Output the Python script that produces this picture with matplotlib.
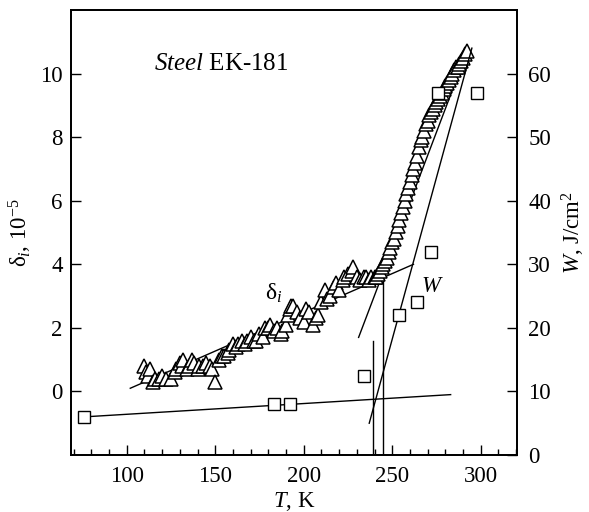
import numpy as np
import matplotlib
matplotlib.use("Agg")
import matplotlib.pyplot as plt
from matplotlib.ticker import MultipleLocator

plt.rcParams['font.family'] = ['Liberation Serif', 'DejaVu Serif']
plt.rcParams['mathtext.fontset'] = 'custom'
plt.rcParams['mathtext.rm'] = 'Liberation Serif'
plt.rcParams['mathtext.it'] = 'Liberation Serif:italic'

# delta_i (10^-5) vs T (K), triangles
t_delta = [110, 111, 112, 113, 115, 116, 118, 120, 122, 125, 127, 128, 130, 131, 132, 134,
           135, 137, 138, 140, 141, 143, 145, 147, 148, 150, 152, 154, 155, 157, 158, 160,
           162, 163, 165, 167, 168, 170, 172, 173, 175, 177, 178, 180, 181, 183, 185, 187,
           188, 190, 191, 192, 193, 194, 196, 198, 200, 201, 203, 205, 207, 208, 210, 212,
           213, 215, 217, 218, 220, 222, 223, 225, 227, 228, 230, 232, 234, 235, 237, 238,
           240, 241, 242, 243, 244, 245, 246, 247, 248, 249, 250, 251, 252, 253, 254, 255,
           256, 257, 258, 259, 260, 261, 262, 263, 264, 265, 266, 267, 268, 269, 270, 271,
           272, 273, 274, 275, 276, 277, 278, 279, 280, 281, 282, 283, 284, 285, 286, 287,
           288, 289, 290, 291, 292]
delta = [0.8, 0.6, 0.5, 0.7, 0.3, 0.4, 0.4, 0.5, 0.4, 0.4, 0.6, 0.7, 0.9, 0.8, 1.0, 0.7,
         0.8, 1.0, 0.9, 0.7, 0.8, 0.8, 0.9, 0.8, 0.7, 0.3, 1.0, 1.1, 1.1, 1.2, 1.3, 1.5,
         1.4, 1.5, 1.6, 1.5, 1.6, 1.7, 1.6, 1.6, 1.8, 1.7, 2.0, 2.0, 2.1, 1.9, 2.0, 1.8,
         1.9, 2.1, 2.4, 2.6, 2.7, 2.7, 2.5, 2.3, 2.2, 2.6, 2.5, 2.1, 2.3, 2.4, 2.8, 3.2,
         2.9, 3.0, 3.3, 3.4, 3.2, 3.5, 3.6, 3.7, 3.8, 3.9, 3.6, 3.5, 3.6, 3.6, 3.5, 3.6,
         3.6, 3.6, 3.7, 3.8, 3.9, 4.0, 4.1, 4.2, 4.4, 4.5, 4.7, 4.8, 5.0, 5.2, 5.4, 5.6,
         5.8, 6.0, 6.2, 6.4, 6.6, 6.8, 7.0, 7.2, 7.4, 7.7, 7.9, 8.0, 8.2, 8.4, 8.5, 8.7,
         8.8, 8.9, 9.0, 9.1, 9.2, 9.3, 9.4, 9.5, 9.6, 9.7, 9.8, 9.9, 10.0, 10.1, 10.2, 10.2,
         10.3, 10.4, 10.5, 10.6, 10.7]

# W (J/cm^2) vs T (K), squares
t_w = [76, 183, 192, 234, 254, 264, 272, 276, 298]
w = [6, 8, 8, 12.5, 22, 24, 32, 57, 57]

# fitted lines (T, delta) / (T, W) endpoints
fit_delta_low = ([102, 262], [0.1, 4.0])
fit_delta_high = ([231, 293], [1.7, 10.8])
fit_w_low = ([76, 283], [6.0, 9.5])
fit_w_high = ([237, 295], [5.0, 64.0])
t_transition = [239, 245]
v_top = [1.6, 3.7]

fig = plt.figure(figsize=(5.89, 5.12), dpi=100)
ax = fig.add_axes([0.1205, 0.1113, 0.7573, 0.8692])
ax2 = ax.twinx()

ax.plot(t_delta, delta, ls='none', marker='^', ms=10.5, mfc='white', mec='black', mew=1.1, zorder=3)
ax.plot(*fit_delta_low, color='black', lw=1.0, zorder=2)
ax.plot(*fit_delta_high, color='black', lw=1.0, zorder=2)
for tt, top in zip(t_transition, v_top):
    ax.plot([tt, tt], [-2, top], color='black', lw=1.0)

ax2.plot(t_w, w, ls='none', marker='s', ms=9, mfc='white', mec='black', mew=1.0, zorder=3)
ax2.plot(*fit_w_low, color='black', lw=1.0)
ax2.plot(*fit_w_high, color='black', lw=1.0)

ax.set_xlim(68.5, 320.5)
ax.set_ylim(-2, 12)
ax2.set_ylim(0, 70)

ax.set_xticks([100, 150, 200, 250, 300])
ax.xaxis.set_minor_locator(MultipleLocator(10))
ax.set_yticks([0, 2, 4, 6, 8, 10])
ax2.set_yticks([0, 10, 20, 30, 40, 50, 60])

ax.tick_params(axis='x', which='major', direction='in', length=7, width=1.0, labelsize=16.5, pad=8, top=False)
ax.tick_params(axis='y', which='major', direction='in', length=7, width=1.0, labelsize=16.5, pad=6)
ax.tick_params(axis='x', which='minor', direction='in', length=4, width=1.0, top=False)
ax2.tick_params(axis='y', which='major', direction='in', length=7, width=1.0, labelsize=16.5, pad=8)
for a in (ax, ax2):
    for s in a.spines.values():
        s.set_linewidth(1.3)

ax.set_xlabel('$T$, K', fontsize=16.5)
ax.xaxis.set_label_coords(0.5, -0.078)
ax.set_ylabel('δ$_i$, 10$^{-5}$', fontsize=16.5, labelpad=4)
ax2.set_ylabel('$W$, J/cm$^2$', fontsize=16.5, labelpad=6)

ax.text(115.5, 10.3, '$Steel$ EK-181', fontsize=18, va='center')
ax.text(178, 3.1, 'δ$_i$', fontsize=17, va='center')
ax.text(266, 3.3, '$W$', fontsize=16.5, va='center')

fig.savefig('out.png', dpi=100)
